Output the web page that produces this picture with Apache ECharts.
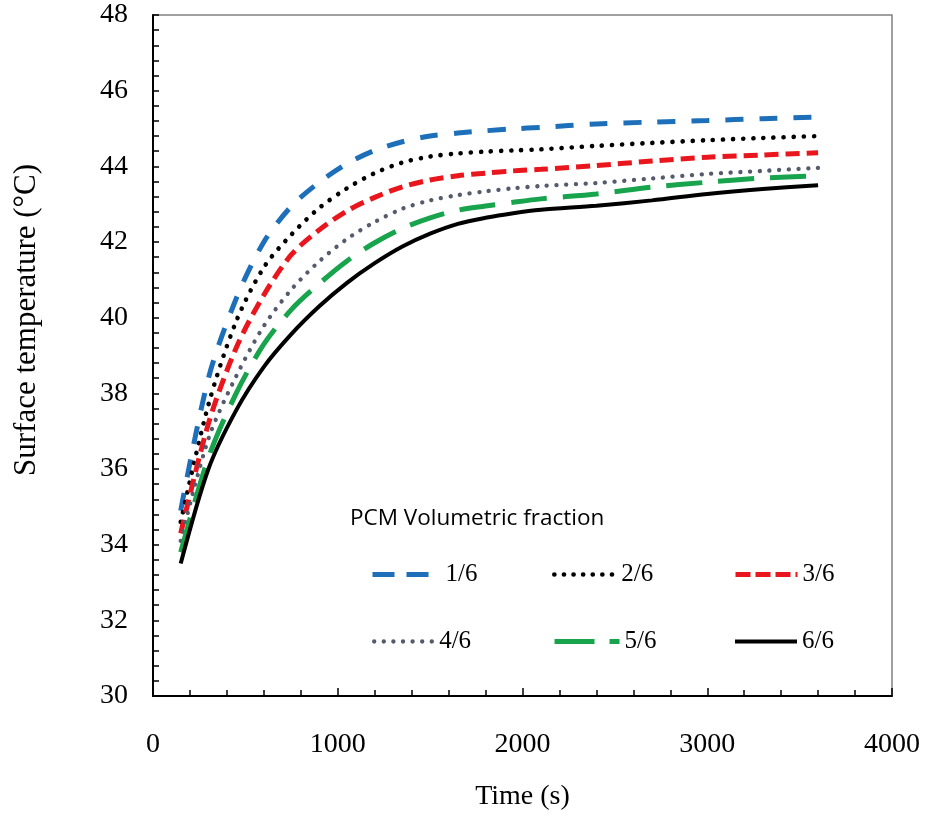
<!DOCTYPE html>
<html><head><meta charset="utf-8">
<script src="https://cdn.jsdelivr.net/npm/echarts@6/dist/echarts.min.js"></script>
<style>html,body{margin:0;padding:0;background:#fff}#c{width:925px;height:816px}</style>
</head><body><div id="c"></div>
<script>
// ---- data ----
const timeS = [150,300,450,600,750,900,1050,1200,1350,1500,1650,1800,1950,2100,2400,2700,3000,3300,3600];
const frac1 = [34.9,38.4,40.5,42.0,42.95,43.58,44.07,44.42,44.65,44.8,44.88,44.94,44.99,45.03,45.12,45.17,45.21,45.26,45.3];
const frac2 = [34.6,37.7,39.9,41.33,42.2,42.9,43.42,43.82,44.1,44.26,44.34,44.39,44.42,44.45,44.54,44.62,44.69,44.75,44.8];
const frac3 = [34.3,37.2,39.2,40.6,41.67,42.32,42.82,43.18,43.46,43.64,43.75,43.82,43.88,43.92,44.02,44.14,44.24,44.3,44.36];
const frac4 = [34.1,36.8,38.45,39.78,40.75,41.49,42.08,42.53,42.88,43.1,43.24,43.34,43.42,43.48,43.56,43.68,43.8,43.88,43.96];
const frac5 = [33.8,36.3,38.0,39.3,40.22,40.9,41.5,41.98,42.36,42.64,42.84,42.95,43.05,43.14,43.27,43.45,43.58,43.69,43.75];
const frac6 = [33.5,36.0,37.55,38.7,39.57,40.3,40.92,41.44,41.88,42.22,42.48,42.64,42.76,42.85,42.96,43.1,43.27,43.4,43.5];
const seriesNames = ['1/6','2/6','3/6','4/6','5/6','6/6'];
const seriesValues = [frac1, frac2, frac3, frac4, frac5, frac6];
const xTicks = {min: 0, max: 4000, interval: 1000};
const yTicks = {min: 30, max: 48, interval: 2};
const legendTitle = 'PCM Volumetric fraction';
const xTitle = 'Time (s)';
const yTitle = 'Surface temperature (\u00B0C)';

// ---- styles ----
const serif = '"Liberation Serif","Times New Roman",serif';
const styles = [
  {color:'#1c6fb8', type:[18,16], cap:'butt', width:5, legType:[22,12], legCap:'butt'},
  {color:'#000000', type:[0.1,10], cap:'round', width:4.6, legType:[0.1,9.5], legCap:'round'},
  {color:'#e9161d', type:[14,7], cap:'butt', width:5, legType:[15,5], legCap:'butt'},
  {color:'#555b6c', type:[0.1,9.6], cap:'round', width:4.3, legType:[0.1,9.5], legCap:'round'},
  {color:'#17a44d', type:[36,16], cap:'butt', width:5, legType:[40,15], legCap:'butt'},
  {color:'#000000', type:'solid', cap:'butt', width:4, legType:'solid', legCap:'butt'}
];
const legendPos = [
  {left:370, top:562, w:57, pad:11},
  {left:552, top:562, w:62, pad:0},
  {left:733, top:562, w:62, pad:0},
  {left:372, top:629, w:60, pad:0},
  {left:552, top:629, w:65, pad:0},
  {left:733, top:629, w:62, pad:0}
];

const series = seriesNames.map((n, i) => ({
  name: n, type: 'line', symbol: 'none', smooth: 0.3,
  data: timeS.map((t, k) => [t, seriesValues[i][k]]),
  lineStyle: {color: styles[i].color, width: styles[i].width, type: styles[i].type, cap: styles[i].cap},
  itemStyle: {color: styles[i].color},
  z: 2 + i, animation: false
}));

const legends = seriesNames.map((n, i) => ({
  show: true, selectedMode: false, orient: 'horizontal',
  left: legendPos[i].left, top: legendPos[i].top, padding: 0,
  itemWidth: legendPos[i].w, itemHeight: 14,
  data: [{name: n, textStyle: {padding: [0, 0, 0, legendPos[i].pad]}}],
  textStyle: {fontFamily: serif, fontSize: 25, color: '#000'},
  itemStyle: {opacity: 0, borderWidth: 0},
  lineStyle: {width: styles[i].width, type: styles[i].legType, cap: styles[i].legCap, color: styles[i].color}
}));

const chart = echarts.init(document.getElementById('c'), null, {renderer: 'canvas'});
chart.setOption({
  backgroundColor: '#fff',
  animation: false,
  title: {text: legendTitle, left: 350, top: 507, padding: 0,
    textStyle: {fontFamily: '"Open Sans","Noto Sans",sans-serif', fontSize: 22.5, fontWeight: 'normal', color: '#000'}},
  legend: legends,
  grid: {left: 153, right: 33, top: 15, bottom: 117, show: true, borderColor: '#808080', borderWidth: 1.5, containLabel: false},
  xAxis: {
    type: 'value', min: xTicks.min, max: xTicks.max, interval: xTicks.interval,
    name: xTitle, nameLocation: 'middle', nameGap: 87,
    nameTextStyle: {fontFamily: serif, fontSize: 28, color: '#000'},
    axisLine: {show: true, onZero: false, lineStyle: {color: '#000', width: 2}},
    axisTick: {show: true, inside: true, length: 8, lineStyle: {color: '#000', width: 1.5}},
    minorTick: {show: true, splitNumber: 5, length: 6, lineStyle: {color: '#000', width: 1.5}},
    splitLine: {show: false},
    axisLabel: {fontFamily: serif, fontSize: 28, color: '#000', margin: 35, formatter: v => String(v)}
  },
  yAxis: {
    type: 'value', min: yTicks.min, max: yTicks.max, interval: yTicks.interval,
    axisLine: {show: true, onZero: false, lineStyle: {color: '#000', width: 2}},
    axisTick: {show: true, inside: true, length: 6, lineStyle: {color: '#000', width: 1.5}},
    minorTick: {show: true, splitNumber: 5, length: 6, lineStyle: {color: '#000', width: 1.5}},
    splitLine: {show: false},
    axisLabel: {fontFamily: serif, fontSize: 28, color: '#000', margin: 25, formatter: v => String(v)}
  },
  graphic: [{
    type: 'text', x: 27, y: 320, rotation: Math.PI / 2,
    style: {text: yTitle, fontFamily: serif, fontSize: 31, fill: '#000', align: 'center', verticalAlign: 'middle'}
  }],
  series: series
});
</script></body></html>
